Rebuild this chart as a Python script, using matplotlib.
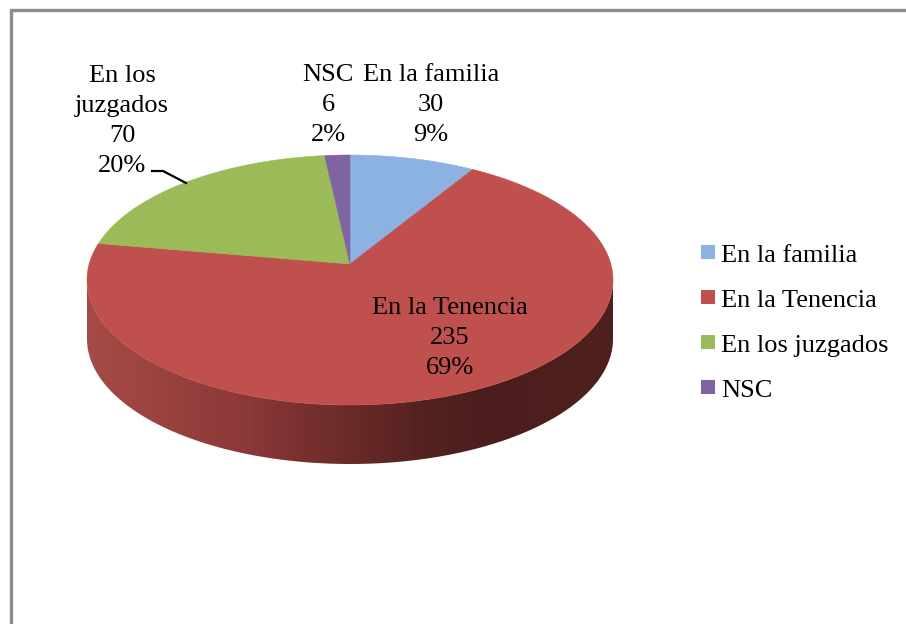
import numpy as np
import matplotlib
matplotlib.use('Agg')
import matplotlib.pyplot as plt
from matplotlib.patches import Polygon, Rectangle

# Chart values
categories = ['En la familia', 'En la Tenencia', 'En los juzgados', 'NSC']
values = [30, 235, 70, 6]
percents = ['9%', '69%', '20%', '2%']
colors = ['#8CB2E2', '#C0504D', '#9BBB59', '#8064A2']

plt.rcParams['font.family'] = ['Liberation Serif', 'DejaVu Serif']
FS = 19.0
LS = 1.47

fig = plt.figure(figsize=(9.06, 6.24), dpi=100)
ax = fig.add_axes([0, 0, 1, 1])
ax.axis('off')

# outer frame, only top and left show
ax.plot([10.5, 10.5, 906], [624, 10, 10], color='#8C8C8C', lw=2.4, solid_joinstyle='miter')

# pie geometry in pixels
cx, cy = 350, 280
rx, ry = 263, 125
apex_y = 264
depth = 59


def rim(t):
    # point on the top ellipse along a ray from the apex (perspective)
    dx = rx * np.sin(t)
    dy = -ry * np.cos(t)
    oy = apex_y - cy
    a = (dx / rx) ** 2 + (dy / ry) ** 2
    b = 2 * oy * dy / ry ** 2
    c = (oy / ry) ** 2 - 1
    s = (-b + np.sqrt(b * b - 4 * a * c)) / (2 * a)
    return cx + s * dx, apex_y + s * dy


# side wall: horizontal gradient clipped to the wall shape
stops_x = [87, 150, 250, 350, 420, 480, 613]
stops_r = [0xA6, 0x9C, 0x8A, 0x6A, 0x55, 0x4B, 0x4E]
stops_g = [0x4B, 0x44, 0x38, 0x2A, 0x22, 0x1E, 0x20]
stops_b = [0x47, 0x40, 0x38, 0x28, 0x21, 0x1D, 0x1E]
xs = np.arange(cx - rx, cx + rx + 1)
grad = np.stack([np.interp(xs, stops_x, stops_r),
                 np.interp(xs, stops_x, stops_g),
                 np.interp(xs, stops_x, stops_b)], axis=-1)[None, :, :] / 255
phi = np.linspace(np.pi / 2, 3 * np.pi / 2, 241)
arc_x = cx + rx * np.sin(phi)
arc_y = cy - ry * np.cos(phi)
wall = np.concatenate([np.column_stack([arc_x, arc_y]),
                       np.column_stack([arc_x[::-1], arc_y[::-1] + depth])])
im = ax.imshow(grad, extent=(cx - rx, cx + rx, cy + ry + depth, cy), aspect='auto',
               interpolation='bilinear')
wall_patch = Polygon(wall, closed=True, fc='none', ec='none', transform=ax.transData)
ax.add_patch(wall_patch)
im.set_clip_path(wall_patch)

# top face
total = sum(values)
start = 0.0
for val, col in zip(values, colors):
    end = start + val / total * 2 * np.pi
    ts = np.linspace(start, end, max(int(val * 2), 12))
    pts = [(cx, apex_y)] + [rim(t) for t in ts]
    ax.add_patch(Polygon(pts, closed=True, fc=col, ec=col, lw=0.4))
    start = end

# data labels
ax.text(431, 105, f'{categories[0]}\n{values[0]}\n{percents[0]}', ha='center', va='center',
        fontsize=FS, linespacing=LS, color='black')
ax.text(450, 338, f'{categories[1]}\n{values[1]}\n{percents[1]}', ha='center', va='center',
        fontsize=FS, linespacing=LS, color='black')
ax.text(122, 121, f'En los\njuzgados\n{values[2]}\n{percents[2]}', ha='center', va='center',
        fontsize=FS, linespacing=LS, color='black')
ax.text(328, 105, f'{categories[3]}\n{values[3]}\n{percents[3]}', ha='center', va='center',
        fontsize=FS, linespacing=LS, color='black')

# leader line for the juzgados label
ax.plot([152, 163, 186], [171, 171, 183], color='black', lw=1.6)

# legend
for i, (name, col) in enumerate(zip(categories, colors)):
    y = 245 + i * 45
    ax.add_patch(Rectangle((701, y), 14, 14, fc=col, ec='none'))
    ax.text(721, y + 11, name, ha='left', va='center', fontsize=FS, color='black')

ax.set_xlim(0, 906)
ax.set_ylim(624, 0)

fig.savefig('out.png', dpi=100, facecolor='white')
